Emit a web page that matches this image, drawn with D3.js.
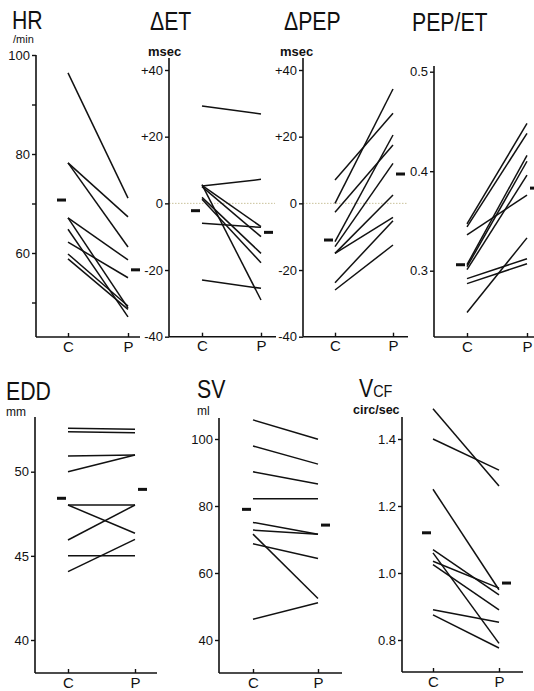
<!DOCTYPE html>
<html>
<head>
<meta charset="utf-8">
<script src="https://cdn.jsdelivr.net/npm/d3@7"></script>
<style>
  body { margin: 0; background: #fff; }
  svg { display: block; }
  text { font-family: "Liberation Sans", Arial, sans-serif; fill: #111; }
  .tick text { font-size: 13px; }
  .title { font-size: 25px; }
  .unit { font-size: 12px; }
  .xlab text { font-size: 15px; }
</style>
</head>
<body>
<svg id="chart" width="534" height="691"></svg>
<script>
const groups = ["C", "P"];

// HR (/min)
const hrC = [96.4, 78.2, 78.2, 67.1, 67.1, 64.8, 62.2, 59.8, 58.8];
const hrP = [71.1, 67.3, 61.2, 58.6, 48.9, 47.1, 55.0, 49.3, 48.6];
const hrMean = [70.7, 56.6];
const hrTicks = [50, 60, 70, 80, 90, 100];
const hrLabels = ["", "60", "", "80", "", "100"];

// delta ET (msec)
const etC = [29.2, 5.2, 5.4, 5.0, 5.6, 1.8, 1.2, -6.0, -23.0];
const etP = [26.8, 7.2, -7.0, -10.0, -29.0, -15.0, -17.8, -7.2, -25.5];
const etMean = [-2.2, -8.7];

// delta PEP (msec)
const pepC = [7.0, 0.0, -2.7, -11.5, -13.0, -15.0, -15.0, -23.8, -26.0];
const pepP = [27.0, 34.3, 17.5, 20.5, 12.0, 2.5, -4.2, -5.2, -12.5];
const pepMean = [-11.0, 8.8];

const deltaTicks = [-40, -20, 0, 20, 40];
const deltaLabels = ["-40", "-20", "0", "+20", "+40"];

// PEP/ET
const ratioC = [0.347, 0.344, 0.336, 0.306, 0.304, 0.301, 0.292, 0.287, 0.258];
const ratioP = [0.448, 0.438, 0.376, 0.416, 0.410, 0.396, 0.312, 0.307, 0.333];
const ratioMean = [0.306, 0.383];
const ratioTicks = [0.3, 0.4, 0.5];
const ratioLabels = ["0.3", "0.4", "0.5"];

// EDD (mm)
const eddC = [52.58, 52.38, 50.93, 50.0, 48.02, 48.02, 45.94, 45.0, 44.06];
const eddP = [52.52, 52.32, 50.99, 50.99, 48.02, 46.34, 48.02, 45.0, 45.98];
const eddMean = [48.42, 48.95];
const eddTicks = [40, 45, 50];
const eddLabels = ["40", "45", "50"];

// SV (ml)
const svC = [105.7, 97.9, 90.2, 82.2, 75.1, 72.8, 71.6, 68.7, 46.2];
const svP = [99.9, 92.5, 86.6, 82.2, 71.6, 71.6, 52.4, 64.3, 51.1];
const svMean = [79.0, 74.3];
const svTicks = [40, 60, 80, 100];
const svLabels = ["40", "60", "80", "100"];

// Vcf (circ/sec)
const vcfC = [1.49, 1.40, 1.25, 1.07, 1.06, 1.035, 1.025, 0.89, 0.875];
const vcfP = [1.26, 1.307, 0.95, 0.935, 0.79, 0.955, 0.89, 0.853, 0.776];
const vcfMean = [1.12, 0.97];
const vcfTicks = [0.8, 1.0, 1.2, 1.4];
const vcfLabels = ["0.8", "1.0", "1.2", "1.4"];

// panel layout (pixels)
const panels = [
  {c: hrC, p: hrP, m: hrMean, ticks: hrTicks, labels: hrLabels, dom: [60, 100], rng: [253, 55],
   ax: 36, cx: 68, px: 128, top: 55, base: 337, right: 140, zero: false,
   title: "HR", tx: 12, ty: 29, unit: "/min", ux: 13, uy: 43, usize: 11},
  {c: etC, p: etP, m: etMean, ticks: deltaTicks, labels: deltaLabels, dom: [-40, 40], rng: [336.7, 70],
   ax: 169, cx: 202, px: 261, top: 58, base: 336.7, right: 276, zero: true,
   title: "ΔET", tx: 150, ty: 30, unit: "msec", ux: 148, uy: 56, usize: 13},
  {c: pepC, p: pepP, m: pepMean, ticks: deltaTicks, labels: deltaLabels, dom: [-40, 40], rng: [336.7, 70],
   ax: 303, cx: 335, px: 393, top: 58, base: 336.7, right: 408, zero: true,
   title: "ΔPEP", tx: 284, ty: 30, unit: "msec", ux: 280, uy: 56, usize: 13},
  {c: ratioC, p: ratioP, m: ratioMean, ticks: ratioTicks, labels: ratioLabels, dom: [0.3, 0.5], rng: [270.7, 71.7],
   ax: 434, cx: 467, px: 527, top: 66, base: 337, right: 534, zero: false,
   title: "PEP/ET", tx: 412, ty: 31, unit: "", ux: 0, uy: 0, usize: 12},
  {c: eddC, p: eddP, m: eddMean, ticks: eddTicks, labels: eddLabels, dom: [40, 50], rng: [640, 471.7],
   ax: 35, cx: 68, px: 135, top: 417, base: 673, right: 157, zero: false,
   title: "EDD", tx: 6, ty: 400, unit: "mm", ux: 6, uy: 416, usize: 12},
  {c: svC, p: svP, m: svMean, ticks: svTicks, labels: svLabels, dom: [40, 100], rng: [640, 439],
   ax: 219, cx: 253, px: 318, top: 418, base: 673, right: 342, zero: false,
   title: "SV", tx: 197, ty: 398, unit: "ml", ux: 197, uy: 415, usize: 12},
  {c: vcfC, p: vcfP, m: vcfMean, ticks: vcfTicks, labels: vcfLabels, dom: [0.8, 1.4], rng: [640, 439],
   ax: 402, cx: 433, px: 499, top: 417, base: 672, right: 523, zero: false,
   title: "V", sub: "CF", tx: 359, ty: 397, unit: "circ/sec", ux: 353, uy: 414, usize: 12.5}
];

const svg = d3.select("#chart");

panels.forEach(function (d) {
  var g = svg.append("g");

  var y = d3.scaleLinear().domain(d.dom).range(d.rng);
  var x = d3.scalePoint().domain(groups).range([d.cx, d.px]);

  // zero reference line (dotted)
  if (d.zero) {
    g.append("line")
      .attr("x1", d.ax).attr("x2", d.px + 14)
      .attr("y1", y(0)).attr("y2", y(0))
      .attr("stroke", "#c9c19a")
      .attr("stroke-width", 1)
      .attr("stroke-dasharray", "1.5,1.5");
  }

  // y axis
  var yAxis = g.append("g")
    .attr("transform", "translate(" + d.ax + ",0)")
    .call(d3.axisLeft(y)
      .tickValues(d.ticks)
      .tickSize(4)
      .tickPadding(2)
      .tickFormat(function (v, i) { return d.labels[i]; }));
  yAxis.select(".domain").remove();
  yAxis.selectAll(".tick line").attr("stroke", "#111").attr("stroke-width", 1.4);

  g.append("line")
    .attr("x1", d.ax).attr("x2", d.ax)
    .attr("y1", d.top).attr("y2", d.base)
    .attr("stroke", "#111").attr("stroke-width", 1.6);

  // x axis
  var xAxis = g.append("g")
    .attr("class", "xlab")
    .attr("transform", "translate(0," + d.base + ")")
    .call(d3.axisBottom(x).tickSize(-4).tickPadding(4));
  xAxis.select(".domain").remove();
  xAxis.selectAll(".tick line").attr("stroke", "#111").attr("stroke-width", 1.4);

  g.append("line")
    .attr("x1", d.ax).attr("x2", d.right)
    .attr("y1", d.base).attr("y2", d.base)
    .attr("stroke", "#111").attr("stroke-width", 1.6);

  // paired lines C -> P
  g.selectAll(".pair")
    .data(d.c.map(function (v, i) { return [v, d.p[i]]; }))
    .enter()
    .append("line")
    .attr("class", "pair")
    .attr("x1", x("C"))
    .attr("x2", x("P"))
    .attr("y1", function (v) { return y(v[0]); })
    .attr("y2", function (v) { return y(v[1]); })
    .attr("stroke", "#111")
    .attr("stroke-width", 1.5);

  // group means
  g.selectAll(".mean")
    .data(d.m)
    .enter()
    .append("rect")
    .attr("class", "mean")
    .attr("x", function (v, i) { return i === 0 ? x("C") - 11 : x("P") + 3; })
    .attr("y", function (v) { return y(v) - 1.5; })
    .attr("width", 9)
    .attr("height", 3)
    .attr("fill", "#111");

  // titles
  var t = g.append("text")
    .attr("class", "title")
    .attr("transform", "translate(" + d.tx + "," + d.ty + ") scale(0.85,1)")
    .text(d.title);
  if (d.sub) {
    t.append("tspan").style("font-size", "17px").text(d.sub);
  }

  if (d.unit) {
    g.append("text")
      .attr("class", "unit")
      .attr("x", d.ux)
      .attr("y", d.uy)
      .style("font-size", d.usize + "px")
      .style("font-weight", d.usize > 12 ? "bold" : "normal")
      .text(d.unit);
  }
});
</script>
</body>
</html>
